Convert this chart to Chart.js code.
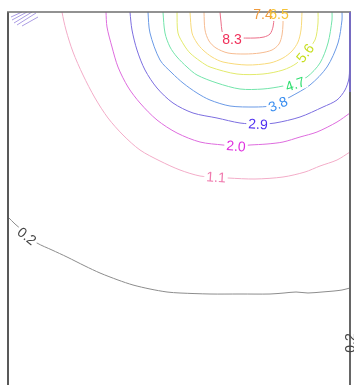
<!DOCTYPE html>
<html>
<head>
<meta charset="utf-8">
<script src="https://cdn.jsdelivr.net/npm/chart.js@4/dist/chart.umd.min.js"></script>
<style>
  html, body { margin: 0; padding: 0; background: #fff; }
  #wrap { width: 354px; height: 385px; position: relative; }
</style>
</head>
<body>
<div id="wrap"><canvas id="c"></canvas></div>
<script>
// Contour levels and their colours (line, label text)
const levels      = [0.2, 1.1, 2.0, 2.9, 3.8, 4.7, 5.6, 6.5, 7.4, 8.3];
const lineColors  = ['#8c8c8c', '#f3acc8', '#de6cde', '#7c6ee0', '#6a9ae6', '#72e4aa', '#e2ea6c', '#f8da7a', '#f6bb90', '#ec6e88'];
const textColors  = ['#444444', '#f07aae', '#e030e0', '#5030f0', '#3a8ef0', '#2ede6e', '#c6de1e', '#f6c436', '#f09a3c', '#f0305a'];

// Contour traces: [distance, depth] pairs, one array per level
const c02a = [[0,205],[7,212],[14,218],[19,223],[29,231],[44,238],[59,245],[77,254],[92,261],[110,268],[125,273],[142,277],[159,280],[172,281],[202,282],[232,282],[262,282],[276,281],[288,280],[300,281],[314,280],[326,279],[334,278],[342,276]];
const c02b = [[341.5,380],[341.5,330],[341.5,288]];
const c11  = [[54,-4],[54,0],[58,18],[65,40],[75,63],[87,86],[100,106],[115,123],[132,138],[152,149],[172,158],[192,164],[208,165],[220,166],[247,167],[275,165],[297,160],[312,154],[329,148],[342,140]];
const c20  = [[98,-4],[98,0],[99,15],[104,35],[110,55],[120,75],[132,91],[149,108],[169,121],[192,130],[215,133],[228,134],[242,133],[259,132],[275,130],[292,125],[309,120],[329,110],[342,101]];
const c29  = [[122,-4],[122,0],[124,18],[129,38],[137,58],[149,76],[165,91],[185,101],[209,106],[232,111],[250,112],[267,111],[292,105],[315,95],[329,88],[337,78],[341,66],[341.5,48],[341.5,0],[341.5,-4]];
const c38  = [[140,-4],[140,0],[142,21],[152,48],[164,61],[175,71],[189,81],[202,88],[222,94],[247,95],[262,94],[272,90],[282,85],[302,73],[319,55],[330,31],[334,8],[334,0],[334,-4]];
const c47  = [[155,-4],[155,0],[157,21],[162,35],[169,45],[179,55],[189,63],[209,71],[232,77],[255,77],[275,74],[287,70],[299,65],[312,51],[320,31],[324,8],[324,0],[324,-4]];
const c56  = [[169,-4],[169,0],[170,21],[176,33],[182,41],[192,49],[202,55],[229,62],[255,62],[275,58],[289,51],[297,41],[307,28],[310,11],[310,0],[310,-4]];
const c65  = [[182,-4],[182,0],[184,21],[189,31],[195,38],[204,45],[215,50],[239,53],[262,51],[275,46],[284,39],[290,30],[293,18],[294,0],[294,-4]];
const c74  = [[196,-4],[196,0],[197,18],[201,29],[208,36],[220,41],[237,42],[252,41],[264,38],[271,32],[274,23],[275,12],[275,0],[275,-4]];
const c83  = [[212,-4],[212,0],[213,10],[214,19],[216,24],[219,26],[228,26],[247,26],[256,25],[262,22],[265,15],[266,6],[266,0],[266,-4]];

// Which level each trace belongs to
const traceLevels = [0.2, 0.2, 1.1, 2.0, 2.9, 3.8, 4.7, 5.6, 6.5, 7.4, 8.3];
const traces      = [c02a, c02b, c11, c20, c29, c38, c47, c56, c65, c74, c83];

// Short tightly packed traces in the upper-left corner
const cornerTraces = [
  [[14,0],[3,5]],
  [[19,0],[4,8]],
  [[24,0],[6,11]],
  [[28,1],[9,13]],
  [[30,5],[14,14]]
];

// Inline label anchors: [level, distance, depth]
const labelSpots = [
  [8.3, 224, 27],
  [7.4, 255, 2],
  [6.5, 271, 2],
  [5.6, 297, 41],
  [4.7, 287, 72],
  [3.8, 270, 92],
  [2.9, 250, 112],
  [2.0, 228, 134],
  [1.1, 208, 165],
  [0.2, 19, 224],
  [0.2, 342, 331]
];

const levelIndex = v => levels.findIndex(l => Math.abs(l - v) < 1e-9);

const datasets = traces.map((pts, i) => ({
  data: pts.map(([x, y]) => ({ x, y })),
  showLine: true,
  borderColor: lineColors[levelIndex(traceLevels[i])],
  borderWidth: 1,
  pointRadius: 0,
  tension: 0.3,
  fill: false
}));
cornerTraces.forEach(pts => datasets.push({
  data: pts.map(([x, y]) => ({ x, y })),
  showLine: true,
  borderColor: '#ab9de4',
  borderWidth: 1,
  pointRadius: 0,
  fill: false
}));

// Draws the frame and the inline level labels
const contourLabels = {
  id: 'contourLabels',
  afterDatasetsDraw(chart) {
    const { ctx, chartArea: a, scales: { x: sx, y: sy } } = chart;
    const font = '14px "Liberation Sans", Arial, sans-serif';

    // label angle follows the nearest segment of the same level
    const placed = labelSpots.map(([lv, dx, dy]) => {
      const px = sx.getPixelForValue(dx), py = sy.getPixelForValue(dy);
      let best = Infinity, ang = 0;
      traces.forEach((pts, ti) => {
        if (Math.abs(traceLevels[ti] - lv) > 1e-9) return;
        for (let k = 0; k < pts.length - 1; k++) {
          const x1 = sx.getPixelForValue(pts[k][0]), y1 = sy.getPixelForValue(pts[k][1]);
          const x2 = sx.getPixelForValue(pts[k + 1][0]), y2 = sy.getPixelForValue(pts[k + 1][1]);
          const vx = x2 - x1, vy = y2 - y1, L2 = vx * vx + vy * vy || 1;
          const t = Math.max(0, Math.min(1, ((px - x1) * vx + (py - y1) * vy) / L2));
          const d = Math.hypot(px - (x1 + t * vx), py - (y1 + t * vy));
          if (d < best) { best = d; ang = Math.atan2(vy, vx); }
        }
      });
      if (best > 6) ang = 0;
      if (ang > Math.PI / 2) ang -= Math.PI;
      if (ang < -Math.PI / 2) ang += Math.PI;
      return { lv, px, py, ang, text: lv.toFixed(1), color: textColors[levelIndex(lv)] };
    });

    ctx.save();
    ctx.font = font;
    // clear the lines under each label
    placed.forEach(p => {
      const w = ctx.measureText(p.text).width;
      ctx.save();
      ctx.translate(p.px, p.py);
      ctx.rotate(p.ang);
      ctx.fillStyle = '#ffffff';
      ctx.fillRect(-w / 2 - 2, -7, w + 4, 14);
      ctx.restore();
    });

    // frame: left, top and right edges
    ctx.lineCap = 'butt';
    ctx.strokeStyle = '#595959';
    ctx.lineWidth = 2;
    ctx.beginPath();
    ctx.moveTo(a.left, a.bottom + 2); ctx.lineTo(a.left, a.top);
    ctx.stroke();
    ctx.strokeStyle = '#6e6e6e';
    ctx.lineWidth = 1.6;
    ctx.beginPath();
    ctx.moveTo(a.left - 1, a.top); ctx.lineTo(a.right + 1, a.top);
    ctx.stroke();
    ctx.strokeStyle = '#666666';
    ctx.lineWidth = 2;
    ctx.beginPath();
    ctx.moveTo(a.right, a.top); ctx.lineTo(a.right, a.bottom + 2);
    ctx.stroke();
    // 2.9 contour running down the right edge
    ctx.strokeStyle = lineColors[levelIndex(2.9)];
    ctx.lineWidth = 1.5;
    ctx.beginPath();
    ctx.moveTo(a.right, a.top); ctx.lineTo(a.right, sy.getPixelForValue(80));
    ctx.stroke();

    // label text
    ctx.textAlign = 'center';
    ctx.textBaseline = 'middle';
    placed.forEach(p => {
      ctx.save();
      ctx.translate(p.px, p.py);
      ctx.rotate(p.ang);
      ctx.fillStyle = p.color;
      ctx.fillText(p.text, 0, 1);
      ctx.restore();
    });
    ctx.restore();
  }
};

new Chart(document.getElementById('c'), {
  type: 'scatter',
  data: { datasets },
  options: {
    responsive: true,
    maintainAspectRatio: false,
    animation: false,
    layout: { padding: { left: 8, top: 12, right: 4, bottom: 0 } },
    plugins: { legend: { display: false }, tooltip: { enabled: false } },
    scales: {
      x: { type: 'linear', min: 0, max: 342, display: false },
      y: { type: 'linear', min: 0, max: 373, reverse: true, display: false }
    }
  },
  plugins: [contourLabels]
});
</script>
</body>
</html>
